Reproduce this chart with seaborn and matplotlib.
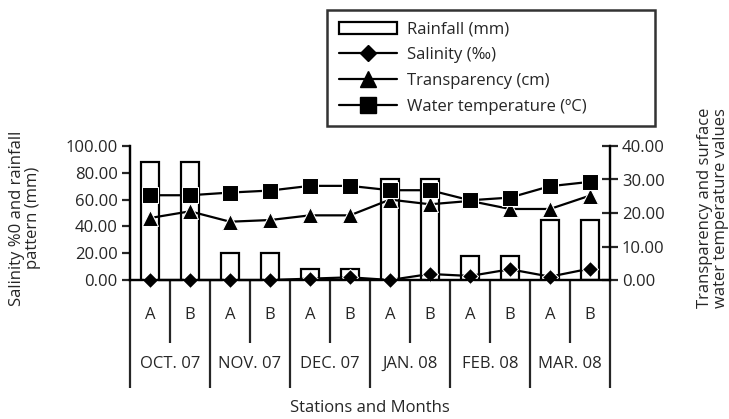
import numpy as np
import pandas as pd
import matplotlib
matplotlib.use('Agg')
import matplotlib.pyplot as plt
import matplotlib.transforms as mtrans
from matplotlib.lines import Line2D
from matplotlib.patches import Patch
import seaborn as sns

sns.set_style('white')
plt.rcParams['font.family'] = ['Open Sans', 'DejaVu Sans']

months = ['OCT. 07', 'NOV. 07', 'DEC. 07', 'JAN. 08', 'FEB. 08', 'MAR. 08']
stations = ['A', 'B']
rainfall = [88, 88, 20, 20, 8, 8, 75, 75, 18, 18, 45, 45]
salinity = [0, 0, 0, 0, 1, 2, 0, 4.5, 3, 8, 2.5, 8.5]
transparency = [18.5, 20.5, 17.4, 17.9, 19.3, 19.3, 24.0, 22.6, 23.6, 21.2, 21.2, 25.2]
water_temp = [25.3, 25.3, 26.1, 26.7, 28.1, 28.1, 26.8, 26.8, 23.8, 24.6, 28.0, 29.3]

pos = np.arange(len(rainfall))
df = pd.DataFrame({'pos': pos, 'rainfall': rainfall, 'salinity': salinity,
                   'transparency': transparency, 'water_temp': water_temp})

fs = 12
fig = plt.figure(figsize=(7.29, 4.19), dpi=100)
ax = fig.add_axes([130/729, 1 - 280/419, 480/729, 134/419])
ax2 = ax.twinx()

sns.barplot(data=df, x='pos', y='rainfall', ax=ax, color='white', edgecolor='black',
            linewidth=1.6, width=0.43, errorbar=None, zorder=2)
sns.lineplot(data=df, x='pos', y='salinity', ax=ax, color='black', marker='D',
             markersize=8, linewidth=1.6, clip_on=False, zorder=3)
sns.lineplot(data=df, x='pos', y='transparency', ax=ax2, color='black', marker='^',
             markersize=11, linewidth=1.6, clip_on=False, zorder=3)
sns.lineplot(data=df, x='pos', y='water_temp', ax=ax2, color='black', marker='s',
             markersize=11, linewidth=1.6, clip_on=False, zorder=4)

ax.set_ylim(0, 100)
ax2.set_ylim(0, 40)
ax.set_xlim(-0.5, 11.5)
ax.set_yticks([0, 20, 40, 60, 80, 100])
ax2.set_yticks([0, 10, 20, 30, 40])
ax.yaxis.set_major_formatter(matplotlib.ticker.FormatStrFormatter('%.2f'))
ax2.yaxis.set_major_formatter(matplotlib.ticker.FormatStrFormatter('%.2f'))
ax.set_ylabel('')
ax2.set_ylabel('')
ax.set_xlabel('')
ax2.set_xlabel('')

for a in (ax, ax2):
    for s in a.spines.values():
        s.set_color('black')
        s.set_linewidth(1.6)
    a.spines['top'].set_visible(False)
ax.tick_params(axis='y', direction='out', length=6, width=1.6, labelsize=fs, pad=3, left=True)
ax2.tick_params(axis='y', direction='inout', length=11, width=1.6, labelsize=fs, pad=3, right=True)

# category separators drawn as ticks
ax.set_xticks(np.arange(-0.5, 12, 2))
ax.set_xticks(np.arange(0.5, 12, 2), minor=True)
ax.tick_params(axis='x', which='major', direction='out', length=78, width=1.6,
               labelbottom=False, bottom=True)
ax.tick_params(axis='x', which='minor', direction='out', length=45, width=1.6,
               labelbottom=False, bottom=True)
ax.grid(False)
ax2.grid(False)

trans = mtrans.blended_transform_factory(ax.transData, ax.transAxes)
for i in pos:
    ax.text(i, -0.29, stations[i % 2], transform=trans, ha='center', va='baseline', fontsize=fs)
for m, name in enumerate(months):
    ax.text(2 * m + 0.5, -0.655, name, transform=trans, ha='center', va='baseline', fontsize=fs)

fig.text(370/729, 1 - 408/419, 'Stations and Months', ha='center', va='center', fontsize=fs)
fig.text(25/729, 1 - 218/419, 'Salinity %0 and rainfall\npattern (mm)', rotation=90,
         ha='center', va='center', fontsize=fs, linespacing=1.05)
fig.text(713/729, 1 - 208/419, 'Transparency and surface\nwater temperature values', rotation=90,
         ha='center', va='center', fontsize=fs, linespacing=1.05)

handles = [
    Patch(facecolor='white', edgecolor='black', linewidth=1.6),
    Line2D([], [], color='black', marker='D', markersize=8, linewidth=1.6),
    Line2D([], [], color='black', marker='^', markersize=11, linewidth=1.6),
    Line2D([], [], color='black', marker='s', markersize=11, linewidth=1.6),
]
labels = ['Rainfall (mm)', 'Salinity (‰)', 'Transparency (cm)', 'Water temperature (ºC)']
leg = fig.legend(handles, labels, loc='upper left',
                 bbox_to_anchor=(327/729, 1 - 127/419, 328/729, 117/419), mode='expand',
                 frameon=True, fancybox=False, fontsize=fs, handlelength=3.5,
                 handletextpad=0.6, labelspacing=0.58, borderpad=0.7, borderaxespad=0)
leg.get_frame().set_edgecolor('black')
leg.get_frame().set_linewidth(1.8)
if ax.get_legend() is not None:
    ax.get_legend().remove()
if ax2.get_legend() is not None:
    ax2.get_legend().remove()

fig.savefig('out.png', dpi=100)
